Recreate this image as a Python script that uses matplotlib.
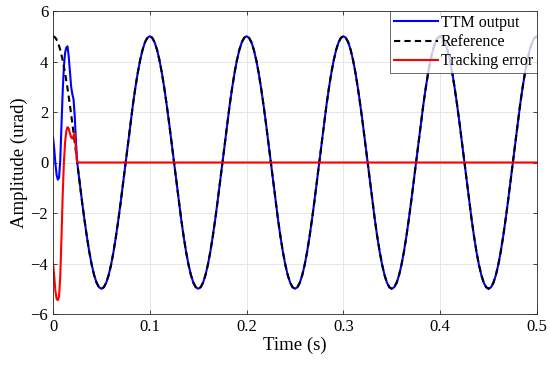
import matplotlib
matplotlib.use('Agg')
import matplotlib.pyplot as plt
import numpy as np

# start-up part, sampled every 1.25 ms from 0 to 0.025 s
transient_time = [0.0, 0.00125, 0.0025, 0.00375, 0.005, 0.00625, 0.0075, 0.00875,
                  0.01, 0.01125, 0.0125, 0.01375, 0.015, 0.01625, 0.0175, 0.01875,
                  0.02, 0.02125, 0.0225, 0.02375, 0.025]
reference_transient = [5.0, 4.98, 4.94, 4.86, 4.76, 4.62, 4.46, 4.26, 4.05, 3.80, 3.54,
                       3.25, 2.94, 2.61, 2.27, 1.91, 1.55, 1.17, 0.78, 0.39, 0.0]
ttm_transient = [1.0, 0.55, -0.05, -0.5, -0.68, -0.6, 0.1, 1.4, 2.8, 3.8, 4.35,
                 4.55, 4.6, 4.2, 3.6, 3.0, 2.7, 2.5, 1.8, 0.8, 0.0]
error_transient = [-4.0, -4.5, -5.1, -5.4, -5.45, -5.3, -4.5, -3.0, -1.3, 0.0, 0.8,
                   1.25, 1.4, 1.35, 1.15, 1.0, 0.95, 1.05, 1.15, 0.5, 0.0]

# steady part, every 2.5 ms from 0.0275 to 0.5 s (output sits on the reference)
steady_time = [round(0.0275 + 0.0025 * i, 4) for i in range(190)]
steady_wave = [
    -0.78, -1.55, -2.27, -2.94, -3.54, -4.05, -4.46, -4.76, -4.94, -5.0,
    -4.94, -4.76, -4.46, -4.05, -3.54, -2.94, -2.27, -1.55, -0.78, 0.0,
    0.78, 1.55, 2.27, 2.94, 3.54, 4.05, 4.46, 4.76, 4.94, 5.0,
    # 0.1 - 0.2 s
    4.94, 4.76, 4.46, 4.05, 3.54, 2.94, 2.27, 1.55, 0.78, 0.0,
    -0.78, -1.55, -2.27, -2.94, -3.54, -4.05, -4.46, -4.76, -4.94, -5.0,
    -4.94, -4.76, -4.46, -4.05, -3.54, -2.94, -2.27, -1.55, -0.78, 0.0,
    0.78, 1.55, 2.27, 2.94, 3.54, 4.05, 4.46, 4.76, 4.94, 5.0,
    # 0.2 - 0.3 s
    4.94, 4.76, 4.46, 4.05, 3.54, 2.94, 2.27, 1.55, 0.78, 0.0,
    -0.78, -1.55, -2.27, -2.94, -3.54, -4.05, -4.46, -4.76, -4.94, -5.0,
    -4.94, -4.76, -4.46, -4.05, -3.54, -2.94, -2.27, -1.55, -0.78, 0.0,
    0.78, 1.55, 2.27, 2.94, 3.54, 4.05, 4.46, 4.76, 4.94, 5.0,
    # 0.3 - 0.4 s
    4.94, 4.76, 4.46, 4.05, 3.54, 2.94, 2.27, 1.55, 0.78, 0.0,
    -0.78, -1.55, -2.27, -2.94, -3.54, -4.05, -4.46, -4.76, -4.94, -5.0,
    -4.94, -4.76, -4.46, -4.05, -3.54, -2.94, -2.27, -1.55, -0.78, 0.0,
    0.78, 1.55, 2.27, 2.94, 3.54, 4.05, 4.46, 4.76, 4.94, 5.0,
    # 0.4 - 0.5 s
    4.94, 4.76, 4.46, 4.05, 3.54, 2.94, 2.27, 1.55, 0.78, 0.0,
    -0.78, -1.55, -2.27, -2.94, -3.54, -4.05, -4.46, -4.76, -4.94, -5.0,
    -4.94, -4.76, -4.46, -4.05, -3.54, -2.94, -2.27, -1.55, -0.78, 0.0,
    0.78, 1.55, 2.27, 2.94, 3.54, 4.05, 4.46, 4.76, 4.94, 5.0,
]
error_time_end = [0.5]
error_end = [0.0]

x_ticks = [0, 0.1, 0.2, 0.3, 0.4, 0.5]
y_ticks = [-6, -4, -2, 0, 2, 4, 6]

time = np.array(transient_time + steady_time)
reference = np.array(reference_transient + steady_wave)
ttm_output = np.array(ttm_transient + steady_wave)
err_time = np.array(transient_time + error_time_end)
tracking_error = np.array(error_transient + error_end)

plt.rcParams['font.family'] = ['Liberation Serif', 'DejaVu Serif']

fig = plt.figure(figsize=(5.5, 3.7), dpi=100)
ax = fig.add_axes([53 / 550, 1 - 314 / 370, 484 / 550, 303 / 370])

ax.plot(time, ttm_output, color='#0000ff', lw=1.5, label='TTM output')
ax.plot(time, reference, color='black', lw=1.5, ls=(0, (3, 2)), label='Reference')
ax.plot(err_time, tracking_error, color='#ff0000', lw=1.5, label='Tracking error')

ax.set_xlim(0, 0.5)
ax.set_ylim(-6, 6)
ax.set_xticks(x_ticks)
ax.set_xticklabels(['0', '0.1', '0.2', '0.3', '0.4', '0.5'])
ax.set_yticks(y_ticks)
ax.set_yticklabels([str(v).replace('-', '\u2212') for v in y_ticks])
ax.tick_params(direction='in', top=True, right=True, labelsize=12, length=3,
               width=0.6, color='#262626')
ax.grid(True, color='#e3e3e3', lw=0.6)
ax.set_axisbelow(True)
for s in ax.spines.values():
    s.set_color('#262626')
    s.set_linewidth(0.6)

ax.set_xlabel('Time (s)', fontsize=13.5, labelpad=1)
ax.set_ylabel('Amplitude (urad)', fontsize=13.5, labelpad=2)

leg = ax.legend(loc='upper right', fontsize=11.5, frameon=True, fancybox=False,
                borderaxespad=0.0, handlelength=2.7, handletextpad=0.2,
                borderpad=0.25, labelspacing=0.2)
leg.get_frame().set_edgecolor('#262626')
leg.get_frame().set_linewidth(0.6)

fig.savefig('out.png', dpi=100)
